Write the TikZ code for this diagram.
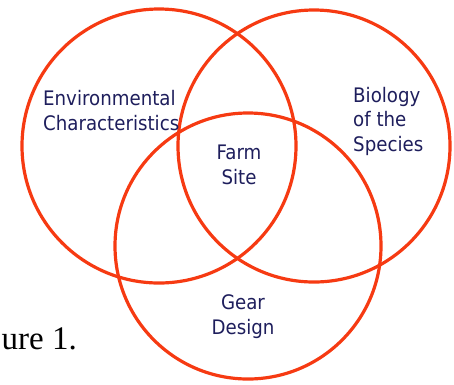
\documentclass[tikz,border=0pt]{standalone}
\usepackage{fontspec}
\setmainfont{DejaVu Sans}[FakeStretch=0.91]
\newfontfamily\captionserif{Liberation Serif}
\definecolor{ringred}{RGB}{246,58,18}
\definecolor{labelnavy}{RGB}{30,30,92}
\begin{document}
\begin{tikzpicture}[x=1pt,y=-1pt,
  ring/.style={circle,draw=ringred,line width=3.2pt,inner sep=0pt,minimum size=#1},
  label/.style={text=labelnavy,inner sep=0pt,font=\fontsize{20}{24.5}\selectfont},
]
\useasboundingbox (0,0) rectangle (454,384);
% the three overlapping sets
\node[ring=274pt] (env)  at (159,146) {};
\node[ring=272pt] (bio)  at (314,146) {};
\node[ring=266pt] (gear) at (248,246) {};
% set labels (anchored on the baseline of their last line)
\node[label,align=left,anchor=base west]  (envtext)  at (43,130)  {Environmental\\Characteristics};
\node[label,align=left,anchor=base west]  (biotext)  at (353,151) {Biology\\of the\\Species};
\node[label,align=center,anchor=base]     (farmtext) at (239,184) {Farm\\Site};
\node[label,align=center,anchor=base]     (geartext) at (243,334) {Gear\\Design};
% figure caption, cut off at the left edge
\node[anchor=base east,inner sep=0pt,font=\captionserif\fontsize{33}{33}\selectfont] (caption) at (77,349) {ure 1.};
\end{tikzpicture}
\end{document}
